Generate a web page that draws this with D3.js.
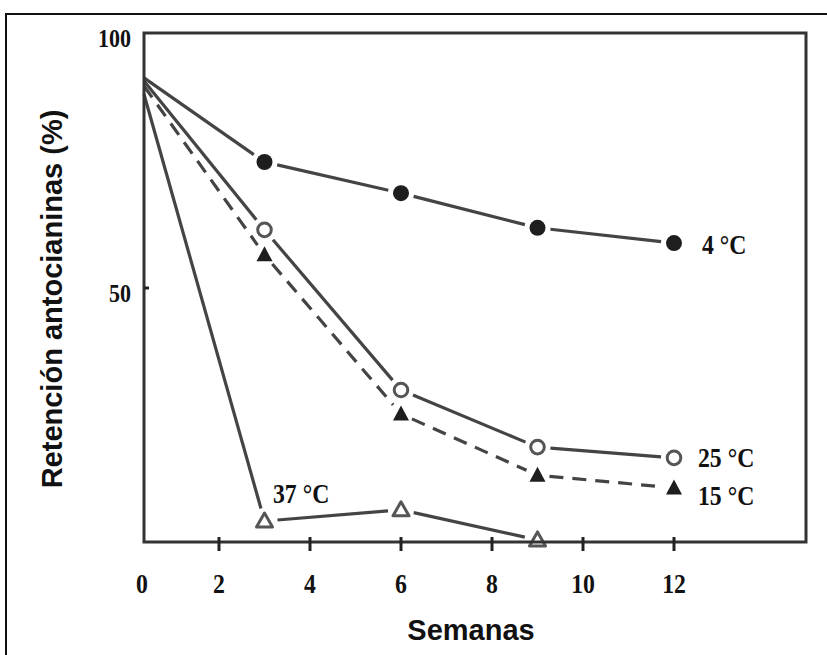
<!DOCTYPE html>
<html>
<head>
<meta charset="utf-8">
<script src="https://cdn.jsdelivr.net/npm/d3@7/dist/d3.min.js"></script>
<style>
  html, body { margin: 0; padding: 0; background: #fff; }
  svg { display: block; }
</style>
</head>
<body>
<svg id="chart" width="827" height="655"></svg>
<script>
// Semanas de almacenamiento
const weeks = [0, 3, 6, 9, 12];
// Retención de antocianinas (%) por temperatura
const ret4  = [91.2, 74.7, 68.6, 61.8, 58.8];
const ret25 = [90.6, 61.4, 30.0, 18.8, 16.7];
const ret15 = [89.6, 56.5, 25.3, 13.3, 10.8];
const ret37 = [88.0, 4.3, 6.5, 0.6];
const seriesNames = ["4 °C", "25 °C", "15 °C", "37 °C"];
const xTicks = [0, 2, 4, 6, 8, 10, 12];
const yTicks = [50, 100];

const svg = d3.select("#chart");
const ink = "#444";
const dark = "#1e1e1e";

const frame = { left: 144, top: 33, right: 806, bottom: 542 };

// x axis: origin sits on the frame corner, week ticks evenly spaced from 2 on
const x = d3.scaleLinear().domain([0, 2, 12]).range([frame.left, 219, 674]);
const y = d3.scaleLinear().domain([0, 100]).range([543, frame.top]);

// outer page border
svg.append("rect")
  .attr("x", 6).attr("y", 14).attr("width", 900).attr("height", 700)
  .attr("fill", "none").attr("stroke", "#111").attr("stroke-width", 2);

function serif(sel) {
  return sel.attr("font-family", "'Liberation Serif', 'DejaVu Serif', serif")
            .attr("font-weight", "bold").attr("fill", "#111");
}

// series definitions
const series = [
  { name: seriesNames[0], vals: ret4,  dash: null,    marker: "dot",    lx: 702, ly: 254 },
  { name: seriesNames[1], vals: ret25, dash: null,    marker: "ring",   lx: 698, ly: 467 },
  { name: seriesNames[2], vals: ret15, dash: "14,9",  marker: "tri",    lx: 698, ly: 505 },
  { name: seriesNames[3], vals: ret37, dash: null,    marker: "otri",   lx: 273, ly: 503 }
];

const gap = { dot: 13, ring: 13, tri: 12, otri: 13 };

const plot = svg.append("g");

series.forEach(s => {
  const pts = s.vals.map((v, i) => [x(weeks[i]), y(v)]);
  const g = plot.append("g");
  // connecting segments, trimmed back from the markers
  for (let i = 0; i < pts.length - 1; i++) {
    const [x0, y0] = pts[i], [x1, y1] = pts[i + 1];
    const len = Math.hypot(x1 - x0, y1 - y0);
    const ux = (x1 - x0) / len, uy = (y1 - y0) / len;
    const g0 = i === 0 ? 0 : gap[s.marker];
    const g1 = gap[s.marker];
    g.append("line")
      .attr("x1", x0 + ux * g0).attr("y1", y0 + uy * g0)
      .attr("x2", x1 - ux * g1).attr("y2", y1 - uy * g1)
      .attr("stroke", ink).attr("stroke-width", 3.2)
      .attr("stroke-dasharray", s.dash);
  }
  // markers at weeks 3..12
  const m = g.selectAll(".m").data(pts.slice(1)).enter();
  if (s.marker === "dot") {
    m.append("circle").attr("cx", d => d[0]).attr("cy", d => d[1]).attr("r", 8)
      .attr("fill", dark);
  } else if (s.marker === "ring") {
    m.append("circle").attr("cx", d => d[0]).attr("cy", d => d[1]).attr("r", 6.8)
      .attr("fill", "#fff").attr("stroke", "#555").attr("stroke-width", 3);
  } else if (s.marker === "tri") {
    m.append("path")
      .attr("transform", d => `translate(${d[0]},${d[1]})`)
      .attr("d", "M0,-8.5 L8,6.5 L-8,6.5 Z").attr("fill", dark);
  } else {
    m.append("path")
      .attr("transform", d => `translate(${d[0]},${d[1]})`)
      .attr("d", "M0,-8 L8,6 L-8,6 Z")
      .attr("fill", "#fff").attr("stroke", "#555").attr("stroke-width", 3)
      .attr("stroke-linejoin", "round");
  }
  // series label
  serif(svg.append("text"))
    .attr("transform", `translate(${s.lx},${s.ly}) scale(0.88,1.05)`)
    .attr("font-size", 27).text(s.name);
});

// plot frame
svg.append("rect")
  .attr("x", frame.left).attr("y", frame.top)
  .attr("width", frame.right - frame.left).attr("height", frame.bottom - frame.top)
  .attr("fill", "none").attr("stroke", "#333").attr("stroke-width", 3);

// x ticks and labels
const xAxis = svg.append("g");
xAxis.selectAll("line").data(xTicks.filter(t => t > 0)).enter().append("line")
  .attr("x1", d => x(d)).attr("x2", d => x(d))
  .attr("y1", frame.bottom - 5).attr("y2", frame.bottom + 9)
  .attr("stroke", "#222").attr("stroke-width", 3);
xAxis.selectAll("text").data(xTicks).enter().append("text")
  .call(serif)
  .attr("transform", d => `translate(${x(d) - (d === 0 ? 2 : 0)},593) scale(0.88,1.05)`)
  .attr("text-anchor", "middle").attr("font-size", 27)
  .text(d => d);

// y ticks and labels
const yAxis = svg.append("g");
yAxis.selectAll("line").data(yTicks.filter(t => t < 100)).enter().append("line")
  .attr("x1", frame.left).attr("x2", frame.left + 5)
  .attr("y1", d => y(d)).attr("y2", d => y(d))
  .attr("stroke", "#222").attr("stroke-width", 3);
yAxis.selectAll("text").data(yTicks).enter().append("text")
  .call(serif)
  .attr("transform", d => `translate(131,${y(d) + 14}) scale(0.88,1.05)`)
  .attr("text-anchor", "end").attr("font-size", 25)
  .text(d => d);

// axis titles
svg.append("text")
  .attr("x", 471).attr("y", 640)
  .attr("text-anchor", "middle")
  .attr("font-family", "'Liberation Sans', Arial, sans-serif")
  .attr("font-weight", "bold").attr("font-size", 29).attr("fill", "#111")
  .text("Semanas");

svg.append("text")
  .attr("transform", "translate(62,299) rotate(-90)")
  .attr("text-anchor", "middle")
  .attr("font-family", "'Liberation Sans', Arial, sans-serif")
  .attr("font-weight", "bold").attr("font-size", 29).attr("fill", "#111")
  .text("Retención antocianinas (%)");
</script>
</body>
</html>
